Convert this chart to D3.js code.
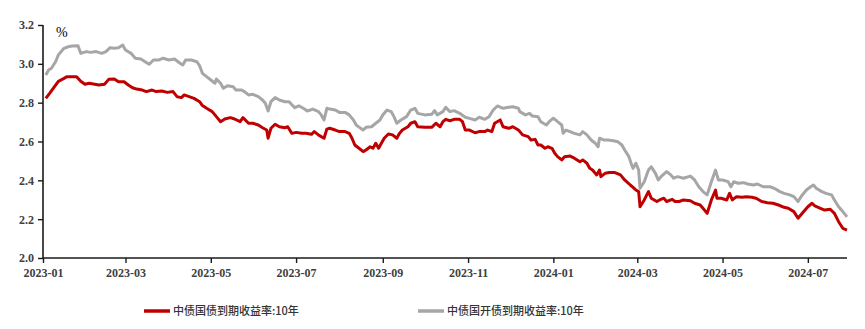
<!DOCTYPE html>
<html><head><meta charset="utf-8">
<script src="https://cdn.jsdelivr.net/npm/d3@7/dist/d3.min.js"></script>
<style>
html,body{margin:0;padding:0;background:#fff;}
svg{display:block;}
.tick text{font-family:"Liberation Serif","Times New Roman",serif;font-weight:bold;font-size:12px;fill:#404040;}
</style></head><body>
<svg id="chart" width="865" height="329"></svg>
<script>
// ---- data ----
const seriesNames = ["中债国债到期收益率:10年", "中债国开债到期收益率:10年"];
const yTicks = [2.0, 2.2, 2.4, 2.6, 2.8, 3.0, 3.2];
const xTickLabels = ["2023-01","2023-03","2023-05","2023-07","2023-09","2023-11","2024-01","2024-03","2024-05","2024-07"];

const govDates = ["2023-01-03","2023-01-06","2023-01-10","2023-01-12","2023-01-16","2023-01-18","2023-01-25","2023-01-28","2023-01-31","2023-02-03","2023-02-07","2023-02-10","2023-02-14","2023-02-17","2023-02-21","2023-02-24","2023-02-28","2023-03-03","2023-03-06","2023-03-09","2023-03-13","2023-03-16","2023-03-20","2023-03-23","2023-03-27","2023-03-31","2023-04-04","2023-04-07","2023-04-10","2023-04-12","2023-04-16","2023-04-19","2023-04-23","2023-04-25","2023-04-28","2023-05-02","2023-05-05","2023-05-08","2023-05-11","2023-05-15","2023-05-18","2023-05-22","2023-05-24","2023-05-28","2023-05-31","2023-06-04","2023-06-07","2023-06-10","2023-06-11","2023-06-13","2023-06-16","2023-06-19","2023-06-23","2023-06-25","2023-06-28","2023-07-01","2023-07-05","2023-07-08","2023-07-12","2023-07-14","2023-07-17","2023-07-19","2023-07-21","2023-07-23","2023-07-25","2023-07-29","2023-08-01","2023-08-05","2023-08-08","2023-08-10","2023-08-12","2023-08-15","2023-08-18","2023-08-20","2023-08-23","2023-08-25","2023-08-27","2023-08-29","2023-08-31","2023-09-02","2023-09-05","2023-09-08","2023-09-11","2023-09-13","2023-09-15","2023-09-19","2023-09-21","2023-09-24","2023-09-26","2023-10-01","2023-10-06","2023-10-09","2023-10-12","2023-10-14","2023-10-16","2023-10-19","2023-10-22","2023-10-26","2023-10-28","2023-10-30","2023-11-02","2023-11-06","2023-11-09","2023-11-13","2023-11-15","2023-11-18","2023-11-20","2023-11-24","2023-11-26","2023-11-30","2023-12-03","2023-12-07","2023-12-08","2023-12-10","2023-12-14","2023-12-16","2023-12-19","2023-12-21","2023-12-23","2023-12-26","2023-12-28","2023-12-31","2024-01-02","2024-01-04","2024-01-07","2024-01-09","2024-01-13","2024-01-16","2024-01-20","2024-01-22","2024-01-25","2024-01-27","2024-01-29","2024-02-01","2024-02-03","2024-02-04","2024-02-07","2024-02-10","2024-02-14","2024-02-18","2024-02-21","2024-02-25","2024-02-27","2024-02-29","2024-03-02","2024-03-03","2024-03-06","2024-03-09","2024-03-11","2024-03-15","2024-03-17","2024-03-20","2024-03-22","2024-03-26","2024-03-28","2024-03-31","2024-04-03","2024-04-08","2024-04-11","2024-04-15","2024-04-17","2024-04-20","2024-04-23","2024-04-26","2024-04-27","2024-04-30","2024-05-04","2024-05-06","2024-05-08","2024-05-11","2024-05-15","2024-05-18","2024-05-22","2024-05-25","2024-05-29","2024-06-02","2024-06-06","2024-06-10","2024-06-14","2024-06-17","2024-06-21","2024-06-24","2024-06-27","2024-06-29","2024-07-01","2024-07-04","2024-07-06","2024-07-10","2024-07-13","2024-07-17","2024-07-20","2024-07-23","2024-07-26","2024-07-29"];
const govValues = [2.822,2.850,2.890,2.910,2.925,2.934,2.934,2.910,2.895,2.900,2.895,2.891,2.895,2.920,2.922,2.908,2.908,2.891,2.877,2.870,2.865,2.857,2.865,2.857,2.860,2.853,2.857,2.830,2.826,2.840,2.830,2.822,2.805,2.785,2.771,2.754,2.728,2.702,2.716,2.723,2.716,2.702,2.723,2.694,2.694,2.685,2.671,2.659,2.617,2.668,2.689,2.676,2.671,2.676,2.642,2.647,2.642,2.642,2.637,2.651,2.634,2.625,2.617,2.664,2.668,2.659,2.651,2.651,2.642,2.617,2.582,2.565,2.548,2.556,2.573,2.565,2.591,2.565,2.591,2.617,2.639,2.634,2.617,2.642,2.659,2.676,2.694,2.702,2.676,2.673,2.673,2.694,2.676,2.702,2.714,2.707,2.714,2.714,2.702,2.659,2.659,2.645,2.651,2.651,2.659,2.651,2.694,2.711,2.676,2.668,2.676,2.659,2.651,2.634,2.625,2.608,2.611,2.582,2.582,2.565,2.573,2.565,2.539,2.522,2.505,2.522,2.525,2.514,2.496,2.505,2.488,2.462,2.453,2.428,2.453,2.419,2.436,2.440,2.440,2.428,2.402,2.376,2.364,2.350,2.342,2.264,2.299,2.342,2.308,2.291,2.299,2.308,2.291,2.302,2.291,2.291,2.299,2.295,2.282,2.273,2.256,2.230,2.299,2.350,2.308,2.308,2.299,2.333,2.299,2.316,2.313,2.316,2.313,2.308,2.291,2.285,2.282,2.273,2.261,2.256,2.239,2.205,2.230,2.247,2.264,2.282,2.268,2.256,2.247,2.251,2.230,2.187,2.153,2.144];

const cdbDates = ["2023-01-03","2023-01-05","2023-01-07","2023-01-10","2023-01-12","2023-01-16","2023-01-19","2023-01-22","2023-01-26","2023-01-28","2023-02-01","2023-02-04","2023-02-08","2023-02-12","2023-02-15","2023-02-18","2023-02-21","2023-02-24","2023-02-27","2023-03-01","2023-03-05","2023-03-08","2023-03-12","2023-03-15","2023-03-18","2023-03-21","2023-03-25","2023-03-28","2023-04-01","2023-04-05","2023-04-09","2023-04-11","2023-04-13","2023-04-17","2023-04-21","2023-04-23","2023-04-25","2023-04-28","2023-05-01","2023-05-04","2023-05-05","2023-05-08","2023-05-10","2023-05-13","2023-05-17","2023-05-19","2023-05-23","2023-05-25","2023-05-28","2023-05-31","2023-06-04","2023-06-07","2023-06-09","2023-06-11","2023-06-13","2023-06-16","2023-06-19","2023-06-23","2023-06-26","2023-06-30","2023-07-03","2023-07-07","2023-07-09","2023-07-13","2023-07-17","2023-07-19","2023-07-21","2023-07-23","2023-07-25","2023-07-29","2023-08-01","2023-08-05","2023-08-08","2023-08-11","2023-08-13","2023-08-15","2023-08-18","2023-08-20","2023-08-24","2023-08-27","2023-08-30","2023-09-01","2023-09-04","2023-09-07","2023-09-09","2023-09-11","2023-09-14","2023-09-18","2023-09-21","2023-09-24","2023-09-26","2023-10-01","2023-10-06","2023-10-08","2023-10-10","2023-10-14","2023-10-16","2023-10-19","2023-10-22","2023-10-26","2023-10-30","2023-11-02","2023-11-06","2023-11-09","2023-11-13","2023-11-16","2023-11-19","2023-11-22","2023-11-26","2023-11-30","2023-12-03","2023-12-07","2023-12-08","2023-12-12","2023-12-15","2023-12-17","2023-12-21","2023-12-23","2023-12-27","2023-12-29","2024-01-01","2024-01-04","2024-01-07","2024-01-08","2024-01-10","2024-01-13","2024-01-16","2024-01-20","2024-01-22","2024-01-25","2024-01-28","2024-01-31","2024-02-02","2024-02-03","2024-02-06","2024-02-09","2024-02-13","2024-02-16","2024-02-19","2024-02-21","2024-02-24","2024-02-26","2024-02-27","2024-02-29","2024-03-02","2024-03-03","2024-03-06","2024-03-09","2024-03-11","2024-03-14","2024-03-16","2024-03-18","2024-03-22","2024-03-25","2024-03-27","2024-03-30","2024-04-03","2024-04-08","2024-04-11","2024-04-14","2024-04-17","2024-04-20","2024-04-23","2024-04-26","2024-04-28","2024-05-01","2024-05-05","2024-05-07","2024-05-09","2024-05-12","2024-05-16","2024-05-19","2024-05-23","2024-05-26","2024-05-30","2024-06-04","2024-06-07","2024-06-11","2024-06-14","2024-06-18","2024-06-21","2024-06-24","2024-06-27","2024-06-30","2024-07-03","2024-07-05","2024-07-07","2024-07-11","2024-07-14","2024-07-18","2024-07-20","2024-07-23","2024-07-26","2024-07-29"];
const cdbValues = [2.943,2.968,2.977,3.011,3.046,3.080,3.088,3.092,3.093,3.054,3.063,3.059,3.063,3.054,3.063,3.083,3.080,3.083,3.097,3.071,3.054,3.029,3.025,3.011,2.998,3.020,3.020,3.029,3.020,3.025,3.003,2.994,3.020,3.020,3.011,2.990,2.951,2.934,2.917,2.900,2.922,2.900,2.874,2.887,2.882,2.865,2.865,2.857,2.840,2.843,2.831,2.814,2.797,2.757,2.805,2.826,2.814,2.805,2.805,2.774,2.784,2.767,2.757,2.767,2.754,2.737,2.711,2.771,2.767,2.762,2.750,2.750,2.737,2.711,2.685,2.674,2.659,2.673,2.676,2.694,2.711,2.737,2.762,2.754,2.728,2.694,2.711,2.728,2.762,2.771,2.745,2.737,2.740,2.759,2.737,2.754,2.776,2.754,2.759,2.745,2.725,2.719,2.711,2.725,2.714,2.728,2.762,2.783,2.771,2.776,2.779,2.771,2.754,2.737,2.745,2.731,2.728,2.702,2.685,2.702,2.720,2.702,2.685,2.642,2.659,2.651,2.642,2.634,2.651,2.634,2.608,2.591,2.573,2.617,2.608,2.608,2.604,2.599,2.582,2.556,2.522,2.479,2.462,2.488,2.453,2.359,2.393,2.453,2.470,2.436,2.402,2.419,2.445,2.428,2.411,2.419,2.411,2.422,2.402,2.367,2.342,2.325,2.393,2.453,2.402,2.402,2.393,2.367,2.393,2.385,2.388,2.381,2.376,2.381,2.367,2.367,2.359,2.342,2.333,2.325,2.316,2.291,2.325,2.350,2.367,2.376,2.359,2.342,2.333,2.325,2.299,2.264,2.239,2.212];

const seriesColors = ["#C00000", "#A6A6A6"];

// ---- chart ----
const parse = d3.timeParse("%Y-%m-%d");
const svg = d3.select("#chart");
const plotLeft = 43, plotRight = 847, plotTop = 25, plotBottom = 258;

const x = d3.scaleTime()
  .domain([parse("2023-01-01"), parse("2024-07-29")])
  .range([plotLeft, plotRight]);
const y = d3.scaleLinear().domain([2.0, 3.2]).range([plotBottom, plotTop]);

const xTickDates = xTickLabels.map(s => parse(s + "-01"));

const gy = svg.append("g").attr("transform", `translate(${plotLeft},0)`)
  .call(d3.axisLeft(y).tickValues(yTicks).tickFormat(d3.format(".1f")).tickSize(5).tickPadding(4));
const gx = svg.append("g").attr("transform", `translate(0,${plotBottom})`)
  .call(d3.axisBottom(x).tickValues(xTickDates).tickFormat(d3.timeFormat("%Y-%m")).tickSize(5).tickPadding(5));
[gx, gy].forEach(g => {
  g.select(".domain").attr("stroke", "#1a1a1a").attr("stroke-width", 1.6);
  g.selectAll(".tick line").attr("stroke", "#1a1a1a").attr("stroke-width", 1.4);
});
gy.select(".domain").attr("d", `M0,${plotBottom}V${plotTop}`);
gx.select(".domain").attr("d", `M${plotLeft},0H${plotRight}`);

svg.append("text").attr("x", 56).attr("y", 37)
  .attr("font-family", "Liberation Serif, serif").attr("font-size", 14).attr("fill", "#000").text("%");

const line = d3.line().x(d => x(d.date)).y(d => y(d.value));
const series = [
  govDates.map((d, i) => ({date: parse(d), value: govValues[i]})),
  cdbDates.map((d, i) => ({date: parse(d), value: cdbValues[i]}))
];
[1, 0].forEach(i => {
  svg.append("path").datum(series[i])
    .attr("fill", "none").attr("stroke", seriesColors[i]).attr("stroke-width", 3)
    .attr("stroke-linejoin", "round").attr("d", line);
});

// legend
const legendX = [144, 418];
seriesNames.forEach((name, i) => {
  const g = svg.append("g").attr("transform", `translate(${legendX[i]},311)`);
  g.append("line").attr("x1", 0).attr("x2", 26).attr("y1", 0).attr("y2", 0)
    .attr("stroke", seriesColors[i]).attr("stroke-width", 3.5);
  g.append("text").attr("x", 29).attr("y", 4)
    .attr("font-family", "Noto Sans CJK SC, sans-serif").attr("font-size", 11)
    .attr("font-weight", 500).attr("fill", "#333").text(name);
});
</script>
</body></html>
